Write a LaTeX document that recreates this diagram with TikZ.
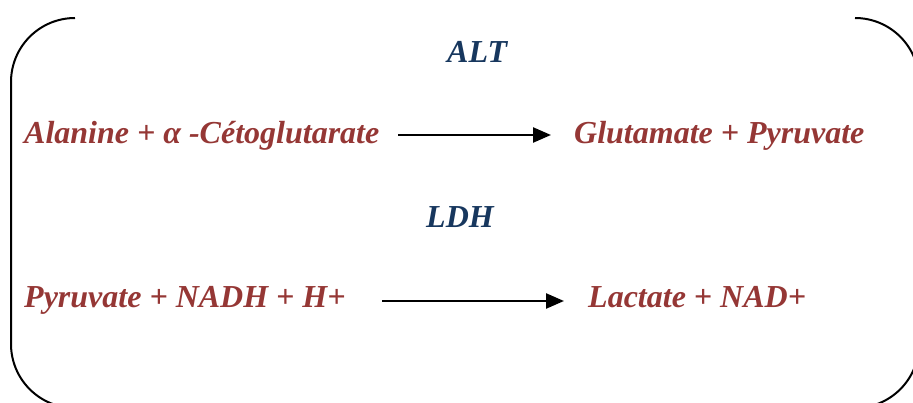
\documentclass[tikz,border=0pt]{standalone}
\usepackage{fontspec}
\setmainfont{Liberation Serif}
\usetikzlibrary{arrows.meta}
\definecolor{eqred}{HTML}{953735}
\definecolor{enzblue}{HTML}{17375E}
\tikzset{
  eq/.style={font=\fontsize{32}{34}\selectfont\bfseries\itshape, text=eqred, inner sep=0pt, anchor=base west},
  enz/.style={font=\fontsize{32}{34}\selectfont\bfseries\itshape, text=enzblue, inner sep=0pt, anchor=base west},
  arr/.style={line width=2.4pt, -{Triangle[length=18pt,width=15pt]}},
  frame/.style={line width=2pt, rounded corners=64pt}
}
\begin{document}
\begin{tikzpicture}[x=1pt,y=-1pt]
\useasboundingbox (0,0) rectangle (913,403);
\begin{scope}
\clip (0,0) rectangle (913,403);
\draw[frame] (75,18) -- (11,18) -- (11,408) -- (919,408) -- (919,18) -- (855,18);
\end{scope}
\node[enz] (alt) at (447,63) {ALT};
\node[enz] (ldh) at (426,228) {LDH};
\node[eq] (r1) at (24,144) {Alanine + α -Cétoglutarate};
\node[eq] (p1) at (574,144) {Glutamate + Pyruvate};
\node[eq] (r2) at (24,308) {Pyruvate + NADH + H+};
\node[eq] (p2) at (588,308) {Lactate + NAD+};
\coordinate (a1s) at (398,135);
\coordinate (a1e) at (551,135);
\coordinate (a2s) at (382,301);
\coordinate (a2e) at (564,301);
\draw[arr] (a1s) -- (a1e);
\draw[arr] (a2s) -- (a2e);
\end{tikzpicture}
\end{document}
